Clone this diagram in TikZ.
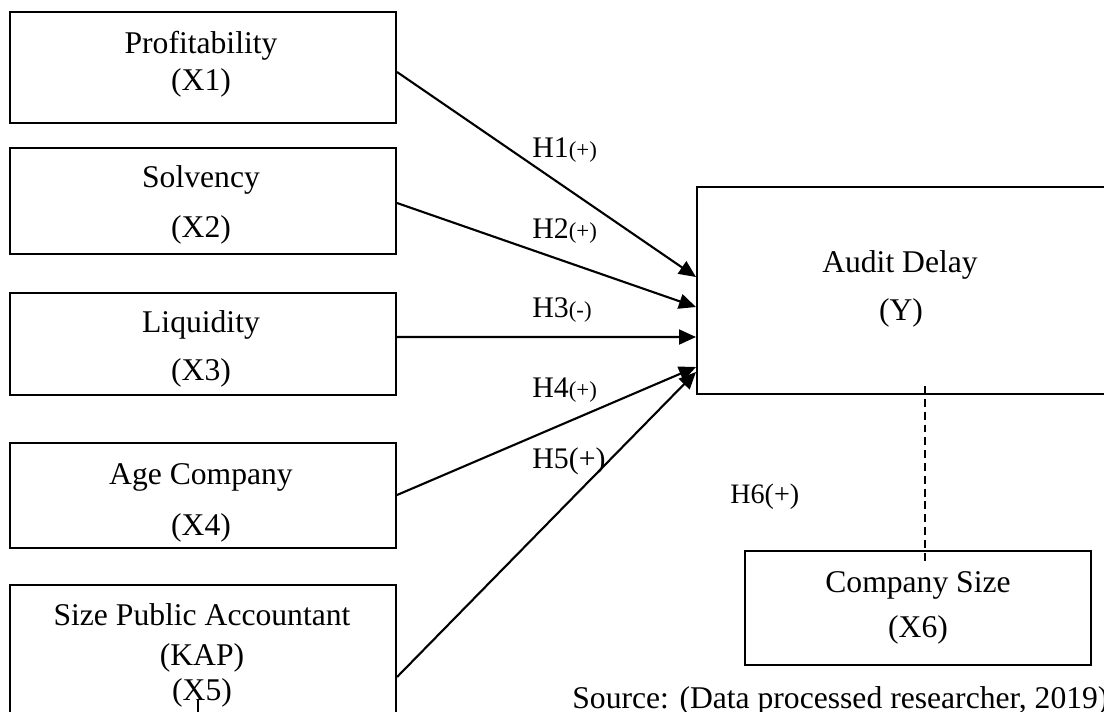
\documentclass[tikz,border=0pt]{standalone}
\usepackage{fontspec}
\setmainfont{Liberation Serif}
\usepackage{tikz}
\usetikzlibrary{arrows.meta,calc}

\begin{document}
\begin{tikzpicture}[x=0.02cm,y=-0.02cm,
  box/.style={draw=black,line width=1.2pt,inner sep=0pt},
  lbl/.style={anchor=base,inner sep=0pt,font=\fontsize{18}{21}\selectfont},
  hyp/.style={anchor=base west,inner sep=0pt,font=\fontsize{17}{20}\selectfont},
  arr/.style={black,line width=1.2pt,-{Triangle[length=0.34cm,width=0.3cm]}}]
\useasboundingbox (0,0) rectangle (1104,711);
% boxes
\node[box,minimum width=7.72cm,minimum height=2.22cm] (x1) at (203,67.5) {};
\node[box,minimum width=7.72cm,minimum height=2.12cm] (x2) at (203,201) {};
\node[box,minimum width=7.72cm,minimum height=2.04cm] (x3) at (203,344) {};
\node[box,minimum width=7.72cm,minimum height=2.10cm] (x4) at (203,495.5) {};
\node[box,minimum width=7.72cm,minimum height=3.10cm] (x5) at (203,662.5) {};
\node[box,minimum width=9.12cm,minimum height=4.14cm] (y) at (925,290.5) {};
\node[box,minimum width=6.92cm,minimum height=2.28cm] (x6) at (918,608) {};
% texts
\node[lbl] (t1a) at (201,53) {Profitability};
\node[lbl] (t1b) at (201,90) {(X1)};
\node[lbl] (t2a) at (201,187) {Solvency};
\node[lbl] (t2b) at (201,237) {(X2)};
\node[lbl] (t3a) at (201,332) {Liquidity};
\node[lbl] (t3b) at (201,380) {(X3)};
\node[lbl] (t4a) at (201,484) {Age Company};
\node[lbl] (t4b) at (201,535) {(X4)};
\node[lbl] (t5a) at (202,625) {Size Public Accountant};
\node[lbl] (t5b) at (202,665) {(KAP)};
\node[lbl] (t5c) at (202,700) {(X5)};
\node[lbl] (ta) at (900,272) {Audit Delay};
\node[lbl] (tb) at (901,320) {(Y)};
\node[lbl] (t6a) at (918,592) {Company Size};
\node[lbl] (t6b) at (918,637) {(X6)};
\node[lbl,anchor=base west] (src) at (572,708) {Source: (Data processed researcher, 2019)};
% hypotheses
\node[hyp] (h1) at (532,157) {H1{\fontsize{13}{15}\selectfont(+)}};
\node[hyp] (h2) at (532,238) {H2{\fontsize{13}{15}\selectfont(+)}};
\node[hyp] (h3) at (532,317) {H3{\fontsize{13}{15}\selectfont(-)}};
\node[hyp] (h4) at (532,397) {H4{\fontsize{13}{15}\selectfont(+)}};
\node[hyp] (h5) at (532,468) {H5(+)};
\node[hyp,font=\fontsize{16}{19}\selectfont] (h6) at (730,503) {H6(+)};
% arrows
\draw[arr] ($(x1.east)+(0,4.5)$) -- ($(y.west)+(0,-13.5)$);
\draw[arr] ($(x2.east)+(0,2)$) -- ($(y.west)+(0,16.5)$);
\draw[arr] ($(x3.east)+(0,-7)$) -- ($(y.west)+(0,46.5)$);
\draw[arr] ($(x4.east)+(0,-0.5)$) -- ($(y.west)+(0,76.5)$);
\draw[arr] ($(x5.east)+(0,14.5)$) -- ($(y.west)+(0,81.5)$);
\draw[line width=1.2pt,dash pattern=on 4.5pt off 2.8pt] ($(y.south)+(0,-9)$) -- ($(x6.north)+(7,14)$);
\coordinate (tick) at (198,700);
\draw[line width=0.6pt] (tick) -- ++(0,20);
\end{tikzpicture}
\end{document}
